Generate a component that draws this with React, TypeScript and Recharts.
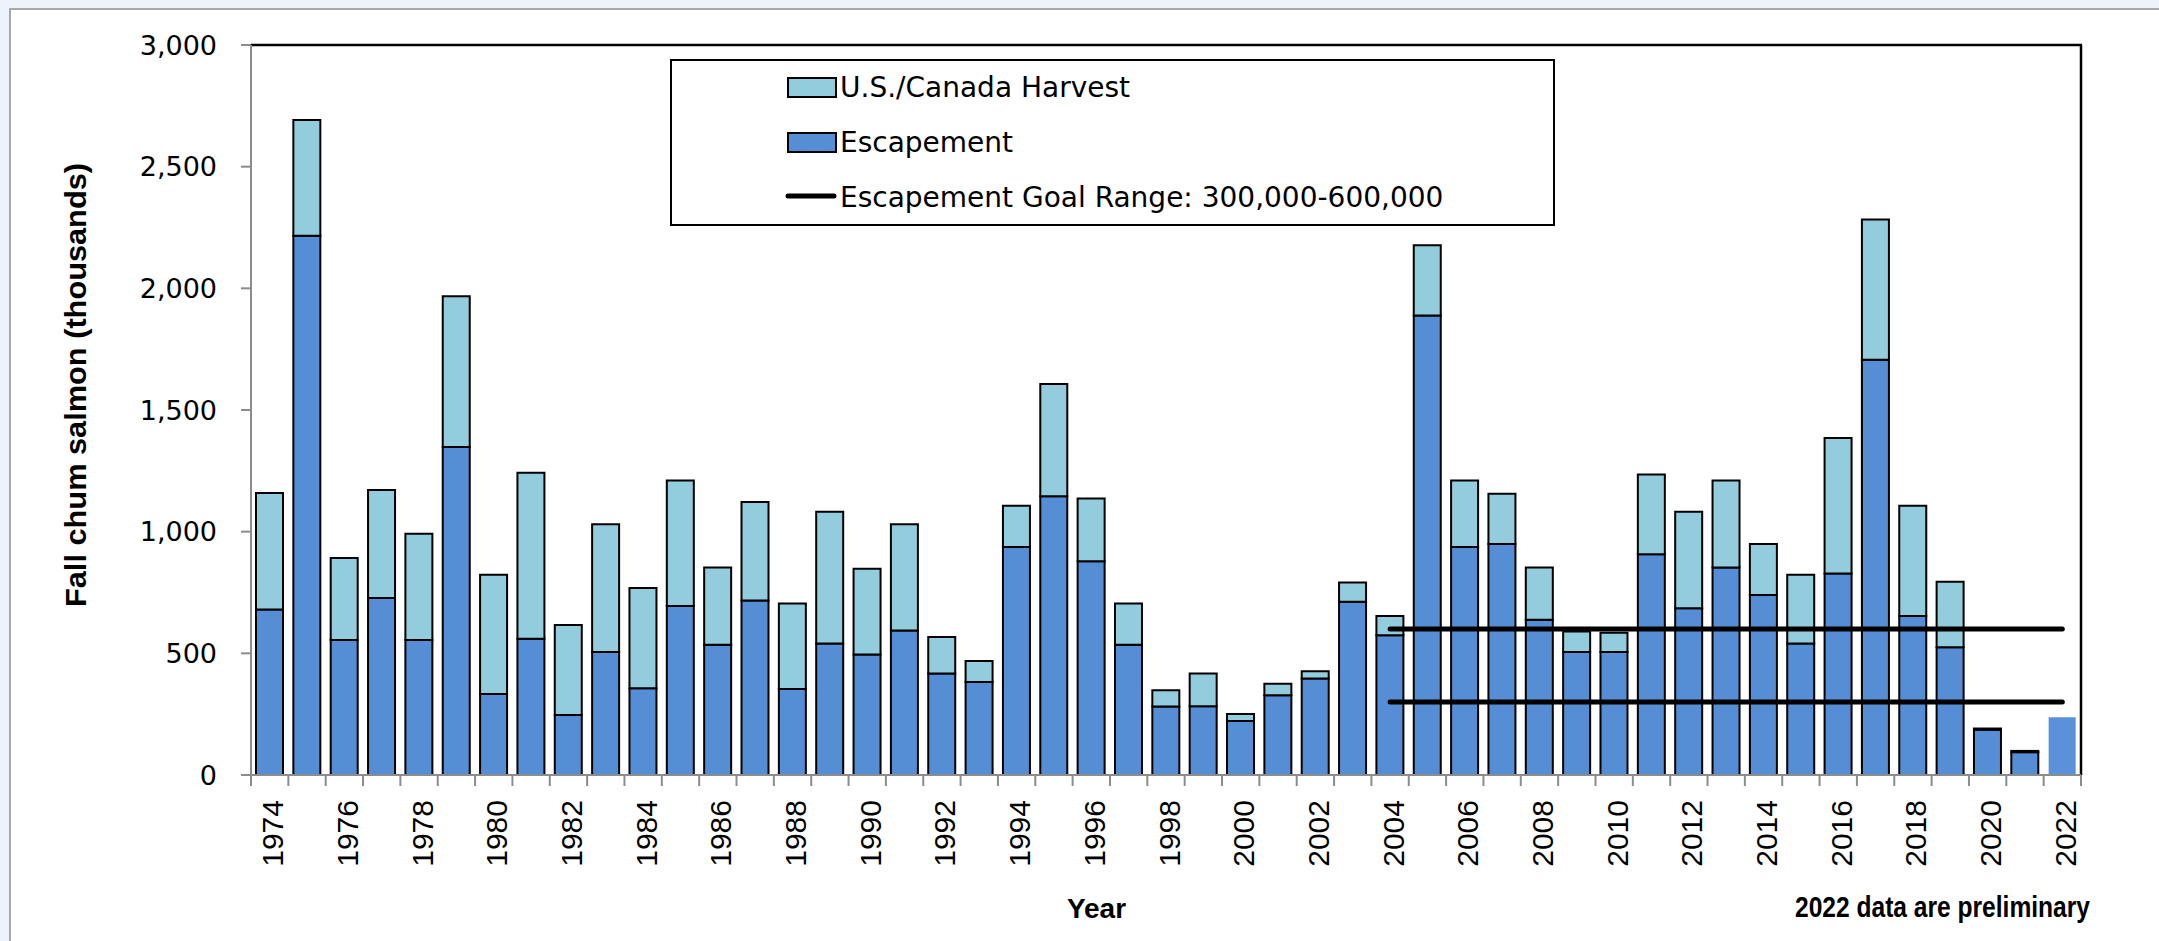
import React from 'react';
import { ComposedChart, Bar, Line, XAxis, YAxis, Cell, Customized } from 'recharts';

// ---- data (thousands of fish) ----
const years = [
  1974, 1975, 1976, 1977, 1978, 1979, 1980, 1981, 1982, 1983, 1984, 1985, 1986, 1987, 1988, 1989,
  1990, 1991, 1992, 1993, 1994, 1995, 1996, 1997, 1998, 1999, 2000, 2001, 2002, 2003, 2004, 2005,
  2006, 2007, 2008, 2009, 2010, 2011, 2012, 2013, 2014, 2015, 2016, 2017, 2018, 2019, 2020, 2021, 2022,
];
const escapement = [
  680, 2216, 555, 727, 555, 1348, 333, 560, 247, 505, 357, 695, 535, 717, 353, 540,
  495, 594, 417, 382, 937, 1146, 878, 535, 281, 283, 222, 328, 397, 712, 574, 1888,
  937, 949, 638, 505, 505, 907, 685, 853, 740, 540, 828, 1706, 653, 525, 186, 94, 237,
];
const harvest = [
  479, 476, 337, 444, 436, 619, 490, 682, 369, 525, 412, 515, 318, 405, 352, 542,
  353, 436, 150, 86, 170, 461, 258, 170, 67, 134, 29, 47, 29, 79, 79, 289,
  273, 207, 215, 85, 80, 328, 397, 357, 209, 283, 557, 577, 454, 269, 5, 5, 0,
];
const goalLow = 300;
const goalHigh = 600;
const goalStartYear = 2004;
const preliminaryYear = 2022;
const yTicks = [0, 500, 1000, 1500, 2000, 2500, 3000];

const seriesNames = {
  harvest: 'U.S./Canada Harvest',
  escapement: 'Escapement',
  goal: 'Escapement Goal Range: 300,000-600,000',
};

const data = years.map((year, i) => ({
  year,
  escapement: escapement[i],
  harvest: harvest[i] > 0 ? harvest[i] : null,
  low: year >= goalStartYear ? goalLow : null,
  high: year >= goalStartYear ? goalHigh : null,
}));

// ---- layout ----
const W = 2159;
const H = 941;
const Y_AXIS_W = 100;
const X_AXIS_H = 100;
const MARGIN = { top: 45, right: 78, bottom: 66, left: 151 };
const PLOT_L = MARGIN.left + Y_AXIS_W;
const PLOT_R = W - MARGIN.right;
const PLOT_T = MARGIN.top;
const PLOT_B = H - MARGIN.bottom - X_AXIS_H;
const STEP = (PLOT_R - PLOT_L) / years.length;

const ESC_COLOR = '#558ED5';
const ESC_PRELIM = '#5A91D8';
const HARV_COLOR = '#93CDDD';
const AXIS_GREY = '#8C8C8C';
const LEGEND_FONT = "'DejaVu Sans', Verdana, sans-serif";

const XTick = (props: any) => {
  const { x, y, payload, index } = props;
  const yr = Number(payload.value);
  const half = STEP / 2;
  const tx = x + 13.5;
  const ty = y + 25;
  return (
    <g>
      <line x1={x - half} x2={x - half} y1={y} y2={y + 11} stroke={AXIS_GREY} strokeWidth={2} />
      {index === years.length - 1 && (
        <line x1={x + half} x2={x + half} y1={y} y2={y + 11} stroke={AXIS_GREY} strokeWidth={2} />
      )}
      {yr % 2 === 0 && (
        <text
          x={tx}
          y={ty}
          transform={`rotate(-90 ${tx} ${ty})`}
          textAnchor="end"
          fontFamily="'Liberation Sans', Arial, sans-serif"
          fontSize={30}
          fill="#000"
        >
          {yr}
        </text>
      )}
    </g>
  );
};

const Overlay = () => (
  <g>
    {/* plot frame top & right */}
    <line x1={PLOT_L} x2={PLOT_R + 1} y1={PLOT_T} y2={PLOT_T} stroke="#000" strokeWidth={2.5} />
    <line x1={PLOT_R} x2={PLOT_R} y1={PLOT_T} y2={PLOT_B} stroke="#000" strokeWidth={2.5} />

    {/* legend */}
    <rect x={671} y={60} width={883} height={165} fill="#fff" stroke="#000" strokeWidth={2} />
    <rect x={788} y={78} width={48} height={19} fill={HARV_COLOR} stroke="#000" strokeWidth={2} />
    <text x={840} y={97} fontFamily={LEGEND_FONT} fontSize={28} fill="#000">
      {seriesNames.harvest}
    </text>
    <rect x={788} y={133} width={48} height={19} fill={ESC_COLOR} stroke="#000" strokeWidth={2} />
    <text x={840} y={152} fontFamily={LEGEND_FONT} fontSize={28} fill="#000">
      {seriesNames.escapement}
    </text>
    <line x1={788} x2={834} y1={196} y2={196} stroke="#000" strokeWidth={5} strokeLinecap="round" />
    <text x={840} y={207} fontFamily={LEGEND_FONT} fontSize={28} fill="#000">
      {seriesNames.goal}
    </text>

    {/* axis titles */}
    <text
      x={86}
      y={385}
      transform="rotate(-90 86 385)"
      textAnchor="middle"
      fontFamily="'Liberation Sans', Arial, sans-serif"
      fontWeight="bold"
      fontSize={30}
      textLength={444}
      lengthAdjust="spacingAndGlyphs"
      fill="#000"
    >
      Fall chum salmon (thousands)
    </text>
    <text
      x={1096.5}
      y={918}
      textAnchor="middle"
      fontFamily="'Liberation Sans', Arial, sans-serif"
      fontWeight="bold"
      fontSize={28}
      fill="#000"
    >
      Year
    </text>
    <text
      x={1795}
      y={917}
      fontFamily="'Liberation Sans Narrow', 'Liberation Sans', Arial, sans-serif"
      fontWeight="bold"
      fontSize={29}
      textLength={295}
      lengthAdjust="spacingAndGlyphs"
      fill="#000"
    >
      {preliminaryYear} data are preliminary
    </text>
  </g>
);

export default function App() {
  return (
    <div style={{ position: 'absolute', left: 0, top: 0, width: W, height: H, background: '#EEF2FA', overflow: 'hidden' }}>
      <div
        style={{
          position: 'absolute',
          left: 9,
          top: 8,
          right: 0,
          bottom: 0,
          background: '#fff',
          borderTop: '2px solid #A8A8A8',
          borderLeft: '2px solid #A8A8A8',
        }}
      />
      <div style={{ position: 'absolute', left: 0, top: 0 }}>
        <ComposedChart width={W} height={H} data={data} margin={MARGIN} barCategoryGap={0}>
          <XAxis
            dataKey="year"
            type="category"
            height={X_AXIS_H}
            interval={0}
            tickLine={false}
            tickSize={0}
            tickMargin={0}
            axisLine={{ stroke: AXIS_GREY, strokeWidth: 2 }}
            tick={<XTick />}
          />
          <YAxis
            width={Y_AXIS_W}
            domain={[0, 3000]}
            ticks={yTicks}
            interval={0}
            tickSize={10}
            tickMargin={24}
            tickFormatter={(v: number) => v.toLocaleString('en-US')}
            tick={{ fontFamily: "'DejaVu Sans', Verdana, sans-serif", fontSize: 27, fill: '#000' }}
            tickLine={{ stroke: AXIS_GREY, strokeWidth: 2 }}
            axisLine={{ stroke: AXIS_GREY, strokeWidth: 2 }}
          />
          <Bar
            dataKey="escapement"
            stackId="s"
            fill={ESC_COLOR}
            stroke="#000"
            strokeWidth={2}
            barSize={27}
            isAnimationActive={false}
          >
            {data.map((d) => (
              <Cell
                key={d.year}
                fill={d.year === preliminaryYear ? ESC_PRELIM : ESC_COLOR}
                stroke={d.year === preliminaryYear ? 'none' : '#000'}
              />
            ))}
          </Bar>
          <Bar
            dataKey="harvest"
            stackId="s"
            fill={HARV_COLOR}
            stroke="#000"
            strokeWidth={2}
            barSize={27}
            isAnimationActive={false}
          />
          <Line
            dataKey="high"
            stroke="#000"
            strokeWidth={5}
            strokeLinecap="round"
            dot={false}
            activeDot={false}
            isAnimationActive={false}
          />
          <Line
            dataKey="low"
            stroke="#000"
            strokeWidth={5}
            strokeLinecap="round"
            dot={false}
            activeDot={false}
            isAnimationActive={false}
          />
          <Customized component={<Overlay />} />
        </ComposedChart>
      </div>
    </div>
  );
}
